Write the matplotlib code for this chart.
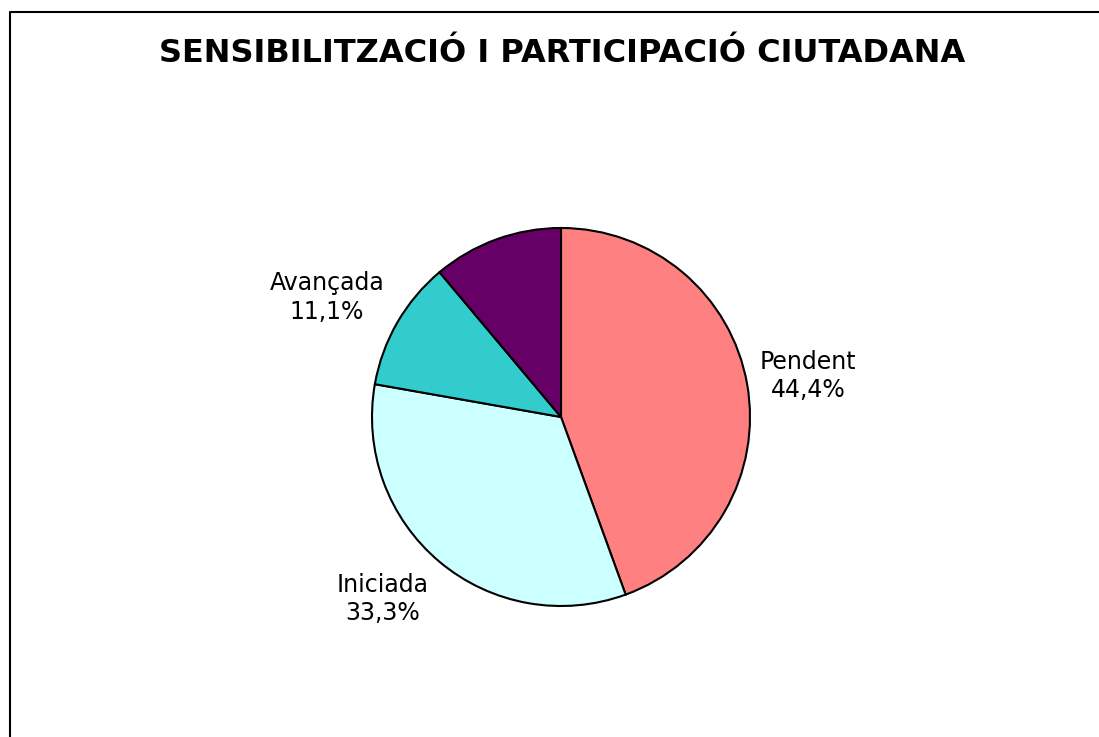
import matplotlib.pyplot as plt
import numpy as np

categories = ['Pendent', 'Iniciada', 'Avançada', '']
values = [44.4, 33.3, 11.1, 11.1]
pct_labels = ['44,4%', '33,3%', '11,1%', '']
colors = ['#FF8080', '#CCFFFF', '#33CCCC', '#660066']

fig = plt.figure(figsize=(10.99, 7.37), dpi=100)
ax = fig.add_axes([0, 0, 1, 1])
ax.axis('off')

# chart frame (runs off the right and bottom edges)
ax.plot([10, 10, 1110], [-10, 725, 725], color='black', lw=1.5, clip_on=False)

cx, cy, r = 561, 320, 189
wedges, _ = ax.pie(values, colors=colors, startangle=90, counterclock=False,
                   center=(cx, cy), radius=r,
                   wedgeprops=dict(edgecolor='black', linewidth=1.5))
ax.set_xlim(0, 1099)
ax.set_ylim(0, 737)
ax.set_aspect('equal')

# label distance (in radii) and angle nudge (degrees) per slice
dist = [1.325, 1.347, 1.389, 0]
nudge = [-0.6, -4.4, 3.0, 0]
for w, name, pct, d, n in zip(wedges, categories, pct_labels, dist, nudge):
    if not name:
        continue
    ang = np.deg2rad((w.theta1 + w.theta2) / 2 + n)
    ax.text(cx + d * r * np.cos(ang), cy + d * r * np.sin(ang), name + '\n' + pct,
            ha='center', va='center', fontsize=17, linespacing=1.25, color='black')

ax.text(562, 675, 'SENSIBILITZACIÓ I PARTICIPACIÓ CIUTADANA', ha='center', va='baseline',
        fontsize=23, fontweight='bold')

fig.savefig('out.png', dpi=100)
